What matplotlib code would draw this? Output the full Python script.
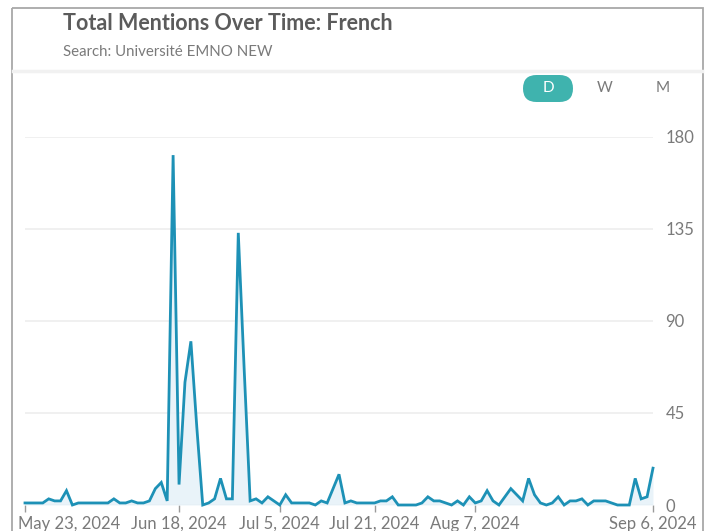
"""Daily mention counts for one search, drawn as a card-style line chart."""

import matplotlib

matplotlib.use("Agg")
import matplotlib.pyplot as plt  # noqa: E402
import pandas as pd  # noqa: E402
from matplotlib.patches import FancyBboxPatch, Rectangle  # noqa: E402
from matplotlib.transforms import ScaledTranslation  # noqa: E402

plt.rcParams["font.family"] = ["Lato", "DejaVu Sans"]

TITLE = "Total Mentions Over Time: French"
SUBTITLE = "Search: Université EMNO NEW"

start_date = "2024-05-23"
end_date = "2024-09-06"

mentions = [
    1, 1, 1, 1, 3, 2, 2, 7, 0, 1,
    1, 1, 1, 1, 1, 3, 1, 1, 2, 1,
    1, 2, 8, 11, 2, 171, 10, 60, 80, 38,
    0, 1, 3, 13, 3, 3, 133, 66, 2, 3,
    1, 4, 2, 0, 5, 1, 1, 1, 1, 0,
    2, 1, 8, 15, 1, 2, 1, 1, 1, 1,
    2, 2, 4, 0, 0, 0, 0, 1, 4, 2,
    2, 1, 0, 2, 0, 4, 1, 2, 7, 2,
    0, 4, 8, 5, 2, 13, 5, 1, 0, 1,
    4, 0, 2, 2, 3, 0, 2, 2, 2, 1,
    0, 0, 0, 13, 3, 4, 18,
]

tick_dates = ["2024-05-23", "2024-06-18", "2024-07-05", "2024-07-21", "2024-08-07", "2024-09-06"]
tick_labels = ["May 23, 2024", "Jun 18, 2024", "Jul 5, 2024", "Jul 21, 2024", "Aug 7, 2024", "Sep 6, 2024"]
y_ticks = [0, 45, 90, 135, 180]
periods = ["D", "W", "M"]

LINE = "#1d91b6"
FILL = "#e4f1f8"
GRID = "#ededed"
TEXT = "#5b5b5b"
MUTED = "#7a7a7a"

W, H = 709, 531
dates = pd.date_range(start_date, end_date, freq="D")

fig = plt.figure(figsize=(W / 100, H / 100), dpi=100)
fig.patch.set_facecolor("white")

# main plot area, placed in pixel terms
left, right, top, bottom = 25, 653, 136.7, 505
ax = fig.add_axes([left / W, 1 - bottom / H, (right - left) / W, (bottom - top) / H])
ax.fill_between(dates, mentions, 0, color=FILL, alpha=0.8, lw=0, zorder=1)
ax.plot(dates, mentions, color=LINE, lw=2.0, solid_joinstyle="miter", clip_on=False, zorder=3)

ax.set_xlim(dates[0], dates[-1])
ax.set_ylim(0, 180)
ax.set_yticks(y_ticks)
ax.set_yticklabels([str(v) for v in y_ticks])
ax.yaxis.tick_right()
ax.set_xticks(pd.to_datetime(tick_dates))
ax.set_xticklabels(tick_labels)

ax.grid(axis="y", color=GRID, lw=1.2, zorder=0)
ax.set_axisbelow(True)
for s in ax.spines.values():
    s.set_visible(False)
ax.tick_params(axis="y", length=0, pad=9, labelsize=12, labelcolor=MUTED)
ax.tick_params(axis="x", length=5, width=1, color="#9a9a9a", pad=3, labelsize=12, labelcolor=MUTED)
for lab in ax.get_yticklabels():
    lab.set_horizontalalignment("left")
first = ax.get_xticklabels()[0]
first.set_horizontalalignment("left")
first.set_transform(first.get_transform() + ScaledTranslation(-5 / 72, 0, fig.dpi_scale_trans))

# card chrome, drawn in pixel coordinates
ov = fig.add_axes([0, 0, 1, 1], zorder=-1)
ov.set_xlim(0, W)
ov.set_ylim(H, 0)
ov.axis("off")
ov.add_patch(Rectangle((12, 8), 691, 540, fill=False, ec="#a8a8a8", lw=1.3))
ov.plot([13, 702], [71, 71], color="#f1f1f1", lw=2.5)

fig.text(63 / W, 1 - 24 / H, TITLE, fontsize=15.5, fontweight="bold", color=TEXT, va="center", ha="left")
fig.text(63 / W, 1 - 52 / H, SUBTITLE, fontsize=10.8, color=MUTED, va="center", ha="left")

# D / W / M period switch
sw = fig.add_axes([0, 0, 1, 1], zorder=5)
sw.set_xlim(0, W)
sw.set_ylim(H, 0)
sw.axis("off")
sw.add_patch(FancyBboxPatch((523, 75), 50, 27, boxstyle="round,pad=0,rounding_size=13.5",
                            fc="#3fb3ae", ec="none"))
for label, x in zip(periods, [548, 605, 663]):
    sw.text(x, 88.5, label, fontsize=11, ha="center", va="center",
            color="white" if label == "D" else MUTED)

fig.savefig("out.png", dpi=100, facecolor="white")
